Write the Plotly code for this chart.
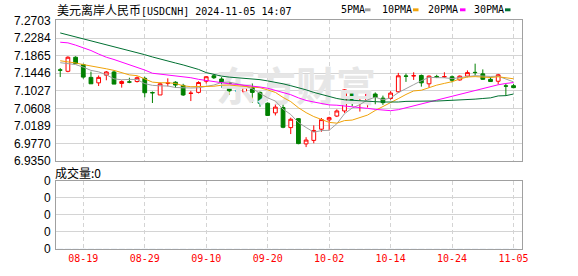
import plotly.graph_objects as go

# ---------------- data ----------------
dates = ["08-14", "08-15", "08-16", "08-19", "08-20", "08-21", "08-22", "08-23", "08-26", "08-27",
         "08-28", "08-29", "08-30", "09-02", "09-03", "09-04", "09-05", "09-06", "09-09", "09-10",
         "09-11", "09-12", "09-13", "09-16", "09-17", "09-18", "09-19", "09-20", "09-23", "09-24",
         "09-25", "09-26", "09-27", "09-30", "10-01", "10-02", "10-03", "10-04", "10-07", "10-08",
         "10-09", "10-10", "10-11", "10-14", "10-15", "10-16", "10-17", "10-18", "10-21", "10-22",
         "10-23", "10-24", "10-25", "10-28", "10-29", "10-30", "10-31", "11-01", "11-04", "11-05"]
tick_labels = ["08-19", "08-29", "09-10", "09-20", "10-02", "10-14", "10-24", "11-05"]

opens = [7.1525, 7.1492, 7.1827, 7.1652, 7.1347, 7.1217, 7.1400, 7.1476, 7.1202, 7.1240,
         7.1248, 7.1324, 7.0985, 7.0928, 7.1209, 7.1232, 7.1156, 7.0966, 7.0989, 7.1255,
         7.1385, 7.1309, 7.1225, 7.1030, 7.0996, 7.1110, 7.0989, 7.0730, 7.0501, 7.0630,
         7.0150, 7.0364, 6.9762, 6.9846, 7.0112, 7.0334, 7.0425, 7.0547, 7.1011, 7.0740,
         7.0768, 7.0951, 7.0852, 7.0844, 7.1004, 7.1380, 7.1382, 7.1393, 7.1194, 7.1369,
         7.1360, 7.1362, 7.1286, 7.1377, 7.1467, 7.1431, 7.1301, 7.1255, 7.1144, 7.1149]
highs = [7.1568, 7.1850, 7.1850, 7.1674, 7.1484, 7.1393, 7.1499, 7.1514, 7.1278, 7.1339,
         7.1370, 7.1362, 7.1011, 7.1225, 7.1324, 7.1255, 7.1194, 7.1027, 7.1255, 7.1377,
         7.1423, 7.1354, 7.1240, 7.1065, 7.1164, 7.1202, 7.1011, 7.0753, 7.0707, 7.0714,
         7.0387, 7.0379, 6.9922, 7.0204, 7.0379, 7.0410, 7.0585, 7.1065, 7.1027, 7.0837,
         7.1011, 7.0989, 7.0913, 7.1019, 7.1454, 7.1438, 7.1469, 7.1415, 7.1393, 7.1408,
         7.1469, 7.1393, 7.1393, 7.1514, 7.1674, 7.1537, 7.1354, 7.1431, 7.1194, 7.1187]
lows = [7.1355, 7.1469, 7.1674, 7.1316, 7.1194, 7.1141, 7.1278, 7.1187, 7.1103, 7.1209,
        7.1225, 7.0874, 7.0737, 7.0928, 7.1133, 7.1095, 7.0905, 7.0783, 7.0966, 7.1202,
        7.1309, 7.1103, 7.0935, 7.0989, 7.0966, 7.0745, 7.0646, 7.0432, 7.0440, 7.0135,
        6.9996, 6.9754, 6.9686, 6.9777, 7.0051, 7.0082, 7.0402, 7.0501, 7.0661, 7.0532,
        7.0630, 7.0707, 7.0692, 7.0814, 7.0973, 7.1240, 7.1286, 7.1126, 7.1103, 7.1331,
        7.1339, 7.1225, 7.1271, 7.1347, 7.1393, 7.1286, 7.1240, 7.1179, 7.0905, 7.1088]
closes = [7.1520, 7.1827, 7.1674, 7.1354, 7.1194, 7.1347, 7.1476, 7.1187, 7.1248, 7.1235,
          7.1339, 7.0981, 7.0980, 7.1194, 7.1212, 7.1164, 7.0928, 7.0970, 7.1225, 7.1362,
          7.1339, 7.1225, 7.1027, 7.1025, 7.1118, 7.0989, 7.0730, 7.0440, 7.0638, 7.0158,
          7.0349, 6.9769, 6.9853, 7.0082, 7.0341, 7.0387, 7.0547, 7.1050, 7.0760, 7.0745,
          7.0951, 7.0867, 7.0745, 7.0973, 7.1385, 7.1375, 7.1387, 7.1217, 7.1377, 7.1347,
          7.1364, 7.1278, 7.1377, 7.1461, 7.1462, 7.1301, 7.1248, 7.1408, 7.1139, 7.1103]

ma5 = [7.1697, 7.1674, 7.1652, 7.1591, 7.1514, 7.1479, 7.1409, 7.1312, 7.1290, 7.1299,
       7.1297, 7.1198, 7.1157, 7.1146, 7.1141, 7.1106, 7.1096, 7.1094, 7.1100, 7.1130,
       7.1165, 7.1224, 7.1236, 7.1196, 7.1147, 7.1077, 7.0978, 7.0860, 7.0783, 7.0591,
       7.0463, 7.0271, 7.0153, 7.0042, 7.0079, 7.0086, 7.0242, 7.0481, 7.0617, 7.0698,
       7.0811, 7.0875, 7.0814, 7.0856, 7.0984, 7.1069, 7.1173, 7.1267, 7.1348, 7.1341,
       7.1338, 7.1317, 7.1349, 7.1365, 7.1388, 7.1376, 7.1370, 7.1376, 7.1312, 7.1240]
ma10 = [7.1743, 7.1720, 7.1690, 7.1652, 7.1613, 7.1583, 7.1552, 7.1514, 7.1469, 7.1406,
        7.1388, 7.1304, 7.1234, 7.1218, 7.1220, 7.1202, 7.1147, 7.1125, 7.1123, 7.1136,
        7.1136, 7.1160, 7.1165, 7.1148, 7.1138, 7.1121, 7.1101, 7.1048, 7.0989, 7.0869,
        7.0770, 7.0624, 7.0507, 7.0413, 7.0335, 7.0275, 7.0256, 7.0317, 7.0330, 7.0388,
        7.0449, 7.0558, 7.0648, 7.0737, 7.0841, 7.0940, 7.1024, 7.1041, 7.1102, 7.1162,
        7.1204, 7.1245, 7.1308, 7.1357, 7.1365, 7.1357, 7.1343, 7.1362, 7.1339, 7.1314]
ma20 = [7.2185, 7.2170, 7.2116, 7.2055, 7.1987, 7.1903, 7.1827, 7.1773, 7.1712, 7.1659,
        7.1583, 7.1522, 7.1446, 7.1423, 7.1408, 7.1392, 7.1370, 7.1339, 7.1301, 7.1271,
        7.1255, 7.1225, 7.1194, 7.1179, 7.1164, 7.1149, 7.1118, 7.1088, 7.1042, 7.0989,
        7.0935, 7.0859, 7.0798, 7.0760, 7.0722, 7.0691, 7.0684, 7.0669, 7.0653, 7.0630,
        7.0608, 7.0585, 7.0569, 7.0554, 7.0577, 7.0623, 7.0669, 7.0722, 7.0768, 7.0813,
        7.0851, 7.0890, 7.0935, 7.0981, 7.1027, 7.1080, 7.1126, 7.1171, 7.1202, 7.1225]
ma30 = [7.2406, 7.2360, 7.2314, 7.2269, 7.2223, 7.2177, 7.2132, 7.2086, 7.2040, 7.1994,
        7.1941, 7.1888, 7.1834, 7.1781, 7.1735, 7.1690, 7.1644, 7.1598, 7.1537, 7.1461,
        7.1415, 7.1377, 7.1354, 7.1339, 7.1332, 7.1316, 7.1293, 7.1263, 7.1232, 7.1194,
        7.1149, 7.1103, 7.1050, 7.0989, 7.0935, 7.0890, 7.0844, 7.0813, 7.0798, 7.0783,
        7.0775, 7.0768, 7.0760, 7.0752, 7.0760, 7.0775, 7.0783, 7.0783, 7.0783, 7.0783,
        7.0791, 7.0791, 7.0813, 7.0821, 7.0829, 7.0844, 7.0859, 7.0905, 7.0912, 7.0951]
volumes = [0] * 60

price_ticks = ["7.2703", "7.2284", "7.1865", "7.1446", "7.1027", "7.0608", "7.0189", "6.9770", "6.9350"]
vol_ticks = ["0", "0", "0", "0", "0"]

title_cn = "美元离岸人民币"
title_rest = "[USDCNH] 2024-11-05 14:07"
legend_names = ["5PMA", "10PMA", "20PMA", "30PMA"]
ma_colors = ["#a0a0a0", "#f0a30a", "#ff00ff", "#007032"]
vol_title = "成交量:0"
watermark = "东方财富"

# ---------------- layout geometry (pixels) ----------------
W, H = 578, 276
L, R = 56, 522
T, B = 20, 256
MAIN_TOP, MAIN_BOT = 20.5, 165.5
VOL_TOP, VOL_BOT = 186, 255.5
XMIN, XMAX = -0.55, 60.1


def xp(px):
    return (px - L) / (R - L)


def yp(py):
    return (B - py) / (B - T)


def xdata(px):
    return XMIN + (px - L) / (R - L) * (XMAX - XMIN)


def ydata(py):
    lo, hi = float(price_ticks[-1]), float(price_ticks[0])
    return hi - (py - MAIN_TOP) / (MAIN_BOT - MAIN_TOP) * (hi - lo)


xs = list(range(len(dates)))
tickvals = [dates.index(d) for d in tick_labels]

fig = go.Figure()

# watermark (drawn first so it sits beneath everything)
fig.add_trace(go.Scatter(
    x=[xdata(296)], y=[ydata(93)], mode="text", text=[watermark],
    textfont=dict(family="Noto Sans CJK SC", size=40, color="#e6e6e6", weight="bold"),
    hoverinfo="skip", showlegend=False, xaxis="x", yaxis="y"))

for name, vals, col in zip(legend_names, [ma5, ma10, ma20, ma30], ma_colors):
    fig.add_trace(go.Scatter(x=xs, y=vals, mode="lines", name=name,
                             line=dict(color=col, width=1), hoverinfo="skip",
                             showlegend=False, xaxis="x", yaxis="y"))

fig.add_trace(go.Candlestick(
    x=xs, open=opens, high=highs, low=lows, close=closes,
    increasing=dict(line=dict(color="#ff0000", width=1), fillcolor="#ffffff"),
    decreasing=dict(line=dict(color="#008000", width=1), fillcolor="#008000"),
    whiskerwidth=0, showlegend=False, hoverinfo="skip", xaxis="x", yaxis="y"))

fig.add_trace(go.Bar(x=xs, y=volumes, marker_color="#008000", showlegend=False,
                     hoverinfo="skip", xaxis="x2", yaxis="y2"))

grid = "#d4d4d4"
border = "#a0a0a0"
tickfont = dict(family="Liberation Sans", size=12, color="#000000")
mono = "DejaVu Sans Mono"

common_x = dict(range=[XMIN, XMAX], tickmode="array", tickvals=tickvals, ticktext=tick_labels,
                showgrid=True, gridcolor=grid, griddash="4px,3px", gridwidth=1,
                showline=True, linecolor=border, linewidth=1, mirror=True,
                zeroline=False, ticks="", fixedrange=True)

fig.update_layout(
    width=W, height=H,
    margin=dict(l=L, r=W - R, t=T, b=H - B, pad=0),
    paper_bgcolor="#ffffff", plot_bgcolor="#ffffff",
    showlegend=False, boxgap=0.3,
    xaxis=dict(common_x, anchor="y", showticklabels=False, rangeslider=dict(visible=False)),
    xaxis2=dict(common_x, anchor="y2", showticklabels=True,
                tickfont=dict(family=mono, size=10, color="#ff0000")),
    yaxis=dict(domain=[yp(MAIN_BOT), yp(MAIN_TOP)], anchor="x",
               range=[float(price_ticks[-1]), float(price_ticks[0])],
               tickmode="array", tickvals=[float(t) for t in price_ticks], ticktext=price_ticks,
               showgrid=True, gridcolor=grid, gridwidth=1, zeroline=False,
               showline=True, linecolor=border, linewidth=1, mirror=True,
               ticks="", tickfont=tickfont, ticklabelstandoff=2),
    yaxis2=dict(domain=[yp(VOL_BOT), yp(VOL_TOP)], anchor="x2",
                range=[0, len(vol_ticks) - 1],
                tickmode="array", tickvals=list(range(len(vol_ticks))), ticktext=vol_ticks,
                showgrid=True, gridcolor=grid, gridwidth=1, zeroline=False,
                showline=True, linecolor=border, linewidth=1, mirror=True,
                ticks="", tickfont=tickfont, ticklabelstandoff=2),
)

annotations = [
    dict(xref="paper", yref="paper", x=xp(55), y=yp(9.5), xanchor="left", yanchor="middle",
         showarrow=False,
         text=f'<span style="font-family:Noto Sans CJK SC;font-size:12px">{title_cn}</span>{title_rest}',
         font=dict(family=mono, size=10, color="#000000")),
    dict(xref="paper", yref="paper", x=xp(53), y=yp(177), xanchor="left", yanchor="middle",
         showarrow=False, text=vol_title,
         font=dict(family="Noto Sans CJK SC", size=12, color="#000000")),
]
legend_text_x = [339, 380, 426, 472]
legend_box_x = [365, 413, 460, 505]
shapes = []
for name, col, tx, bx in zip(legend_names, ma_colors, legend_text_x, legend_box_x):
    annotations.append(dict(xref="paper", yref="paper", x=xp(tx), y=yp(9.5), xanchor="left",
                            yanchor="middle", showarrow=False, text=name,
                            font=dict(family=mono, size=10, color="#000000")))
    shapes.append(dict(type="rect", xref="paper", yref="paper", x0=xp(bx), x1=xp(bx + 5.5),
                       y0=yp(11), y1=yp(8), fillcolor=col, line=dict(width=0)))

fig.update_layout(annotations=annotations, shapes=shapes)

fig.write_html("out.html")
